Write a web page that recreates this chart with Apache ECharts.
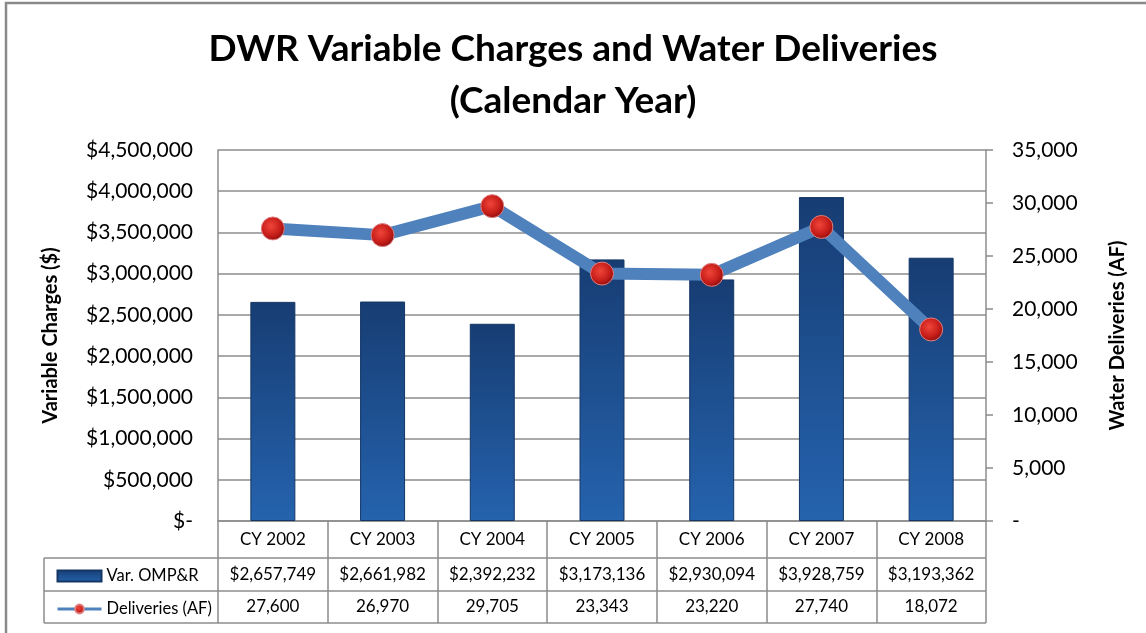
<!DOCTYPE html>
<html>
<head>
<meta charset="utf-8">
<script src="https://cdn.jsdelivr.net/npm/echarts@6/dist/echarts.min.js"></script>
<style>
  html, body { margin: 0; padding: 0; background: #fff; }
  #chart { width: 1146px; height: 633px; }
</style>
</head>
<body>
<div id="chart"></div>
<script>
// chart data
const categories = ["CY 2002", "CY 2003", "CY 2004", "CY 2005", "CY 2006", "CY 2007", "CY 2008"];
const charges = [2657749, 2661982, 2392232, 3173136, 2930094, 3928759, 3193362];
const deliveries = [27600, 26970, 29705, 23343, 23220, 27740, 18072];
const chargeTicks = [0, 500000, 1000000, 1500000, 2000000, 2500000, 3000000, 3500000, 4000000, 4500000];
const deliveryTicks = [0, 5000, 10000, 15000, 20000, 25000, 30000, 35000];

// plot box (px)
const GL = 218, GR = 986, GT = 150, GB = 521;
const ROW1 = 558, ROW2 = 591, ROW3 = 623, TBL_L = 44;
const LINE_C = '#8c8c8c';
const FONT = 'Lato';

function fmtNum(v) {
  return v.toLocaleString('en-US');
}

var chart = echarts.init(document.getElementById('chart'));

var tableLines = [ROW1, ROW2, ROW3].map(function (y) {
  return {
    type: 'line',
    shape: { x1: TBL_L, y1: y, x2: GR, y2: y },
    style: { stroke: LINE_C, lineWidth: 1.5 }
  };
});
tableLines.push({
  type: 'line',
  shape: { x1: TBL_L, y1: ROW1, x2: TBL_L, y2: ROW3 },
  style: { stroke: LINE_C, lineWidth: 1.5 }
});
// outer frame
tableLines.push({
  type: 'rect',
  shape: { x: 6, y: 3, width: 1170, height: 660 },
  style: { fill: 'none', stroke: '#8a8a8a', lineWidth: 2.5 }
});

var cellText = { fontFamily: FONT, fontSize: 17, color: '#000', lineHeight: 20, interval: 0, hideOverlap: false };

chart.setOption({
  animation: false,
  backgroundColor: '#fff',
  textStyle: { fontFamily: FONT },
  title: {
    text: 'DWR Variable Charges and Water Deliveries\n(Calendar Year)',
    left: 'center',
    top: 18,
    textStyle: {
      fontFamily: FONT,
      fontWeight: 'bold',
      fontSize: 37,
      lineHeight: 52,
      color: '#000'
    }
  },
  legend: {
    orient: 'vertical',
    left: 56,
    top: 566,
    padding: 0,
    itemWidth: 44,
    itemHeight: 11,
    itemGap: 13,
    textStyle: { fontFamily: FONT, fontSize: 16.5, color: '#000', lineHeight: 20 },
    data: [
      { name: 'Var. OMP&R', icon: 'rect' },
      { name: 'Deliveries (AF)', lineStyle: { width: 3 } }
    ]
  },
  grid: {
    left: GL,
    right: 1146 - GR,
    top: GT,
    bottom: 633 - GB
  },
  xAxis: [
    {
      type: 'category',
      data: categories,
      boundaryGap: true,
      axisLine: { lineStyle: { color: LINE_C, width: 1.5 } },
      axisTick: { show: true, interval: 0, length: ROW3 - GB, lineStyle: { color: LINE_C, width: 1.5 } },
      axisLabel: Object.assign({ margin: 8.5 }, cellText)
    },
    {
      type: 'category',
      data: categories,
      position: 'bottom',
      offset: ROW1 - GB,
      axisLine: { show: false },
      axisTick: { show: false },
      axisLabel: Object.assign({
        margin: 6.5,
        formatter: function (v, i) { return '$' + fmtNum(charges[i]); }
      }, cellText)
    },
    {
      type: 'category',
      data: categories,
      position: 'bottom',
      offset: ROW2 - GB,
      axisLine: { show: false },
      axisTick: { show: false },
      axisLabel: Object.assign({
        margin: 6,
        formatter: function (v, i) { return fmtNum(deliveries[i]); }
      }, cellText)
    }
  ],
  yAxis: [
    {
      type: 'value',
      min: chargeTicks[0],
      max: chargeTicks[chargeTicks.length - 1],
      interval: chargeTicks[1] - chargeTicks[0],
      name: 'Variable Charges ($)',
      nameLocation: 'middle',
      nameRotate: 90,
      nameGap: 157,
      nameTextStyle: { fontFamily: FONT, fontWeight: 'bold', fontSize: 20, color: '#000' },
      axisLine: { show: true, lineStyle: { color: LINE_C, width: 1.5 } },
      axisTick: { show: false },
      axisLabel: {
        fontFamily: FONT, fontSize: 21, color: '#000', margin: 25,
        formatter: function (v) { return v === 0 ? '$-' : '$' + fmtNum(v); }
      },
      splitLine: { lineStyle: { color: LINE_C, width: 1.5 } }
    },
    {
      type: 'value',
      min: deliveryTicks[0],
      max: deliveryTicks[deliveryTicks.length - 1],
      interval: deliveryTicks[1] - deliveryTicks[0],
      name: 'Water Deliveries (AF)',
      nameLocation: 'middle',
      nameRotate: 90,
      nameGap: 122,
      nameTextStyle: { fontFamily: FONT, fontWeight: 'bold', fontSize: 20, color: '#000' },
      axisLine: { show: true, lineStyle: { color: LINE_C, width: 1.5 } },
      axisTick: { show: true, inside: false, length: 7, lineStyle: { color: LINE_C, width: 1.5 } },
      axisLabel: {
        fontFamily: FONT, fontSize: 21, color: '#000', margin: 26,
        formatter: function (v) { return v === 0 ? '-' : fmtNum(v); }
      },
      splitLine: { show: false }
    }
  ],
  series: [
    {
      name: 'Var. OMP&R',
      type: 'bar',
      data: charges,
      barWidth: '41%',
      itemStyle: {
        color: new echarts.graphic.LinearGradient(0, 0, 0, 1, [
          { offset: 0, color: '#173d73' },
          { offset: 1, color: '#2563ae' }
        ]),
        borderColor: '#143665',
        borderWidth: 1
      }
    },
    {
      name: 'Deliveries (AF)',
      type: 'line',
      yAxisIndex: 1,
      data: deliveries,
      symbol: 'circle',
      symbolSize: 23,
      lineStyle: { color: '#4f81bd', width: 12 },
      itemStyle: {
        color: new echarts.graphic.RadialGradient(0.42, 0.4, 0.6, [
          { offset: 0, color: '#f0453a' },
          { offset: 0.7, color: '#c41c18' },
          { offset: 1, color: '#8e1010' }
        ]),
        borderColor: '#e08080',
        borderWidth: 1
      },
      z: 5
    }
  ],
  graphic: tableLines
});
</script>
</body>
</html>
